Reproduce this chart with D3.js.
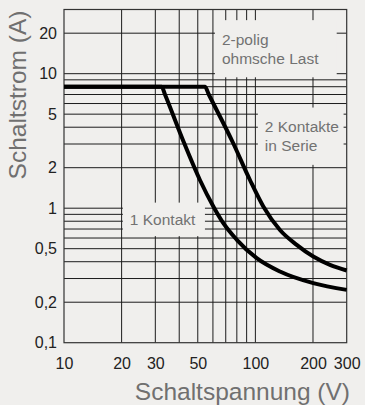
<!DOCTYPE html>
<html>
<head>
<meta charset="utf-8">
<script src="https://cdn.jsdelivr.net/npm/d3@7"></script>
<style>
  html, body { margin: 0; padding: 0; background: #f0efed; }
  svg { display: block; }
</style>
</head>
<body>
<div id="chart"></div>
<script>
// switching voltage (V) / switching current (A)
var kontakt1V = [10, 32.4, 33.7, 41.8, 51.3, 60.3, 68, 80, 101.6, 134.4, 200.7, 300];
var kontakt1A = [8, 8, 7, 3.21, 1.62, 1.03, 0.774, 0.582, 0.425, 0.338, 0.277, 0.247];

var kontakt2V = [10, 54.5, 57.1, 76.6, 93.7, 110, 134.4, 164.4, 200.7, 245.3, 300];
var kontakt2A = [8, 8, 7, 3.04, 1.62, 1.03, 0.689, 0.534, 0.437, 0.379, 0.344];

var xTicks = [10, 20, 30, 50, 100, 200, 300];
var yTicks = [0.1, 0.2, 0.5, 1, 2, 5, 10, 20];
var xGrid = [20, 30, 40, 50, 60, 70, 80, 90, 100, 200];
var yGrid = [20, 10, 9, 8, 7, 6, 5, 4, 3, 2, 1, 0.9, 0.8, 0.7, 0.6, 0.5, 0.4, 0.3, 0.2];

// label boxes in data units (they hide the grid behind them)
var notes = [
    { v0: 61.5, v1: 266, a0: 25, a1: 9.4, lines: ["2-polig", "ohmsche Last"] },
    { v0: 103, v1: 289, a0: 5.6, a1: 2.1, lines: ["2 Kontakte", "in Serie"] },
    { v0: 20.3, v1: 54.5, a0: 1.1, a1: 0.62, lines: ["1 Kontakt"] }
];

var W = 365, H = 405;
var pLeft = 64, pRight = 346.7, pTop = 9.5, pBottom = 342.7;
var font = "'Liberation Sans', Arial, sans-serif";

var svg = d3.select("#chart").append("svg").attr("width", W).attr("height", H);

var x = d3.scaleLog().domain([10, 300]).range([pLeft, pRight]);
var y = d3.scaleLog().domain([0.1, 30]).range([pBottom, pTop]);

// grid
var grid = svg.append("g").attr("stroke", "#1c1c1c").attr("stroke-width", 1);
grid.selectAll("line.v").data(xGrid).enter().append("line")
    .attr("x1", d => x(d)).attr("x2", d => x(d))
    .attr("y1", pTop).attr("y2", pBottom);
grid.selectAll("line.h").data(yGrid).enter().append("line")
    .attr("x1", pLeft).attr("x2", pRight)
    .attr("y1", d => y(d)).attr("y2", d => y(d));

// boxes over the grid
svg.append("g").selectAll("rect").data(notes).enter().append("rect")
    .attr("x", d => x(d.v0)).attr("y", d => y(d.a0))
    .attr("width", d => x(d.v1) - x(d.v0))
    .attr("height", d => y(d.a1) - y(d.a0))
    .attr("fill", "#f0efed");

// frame
svg.append("rect")
    .attr("x", pLeft).attr("y", pTop)
    .attr("width", pRight - pLeft).attr("height", pBottom - pTop)
    .attr("fill", "none").attr("stroke", "#333").attr("stroke-width", 1.2);

// curves
var line = d3.line()
    .x(d => x(d[0])).y(d => y(d[1]))
    .curve(d3.curveMonotoneX);

var series = [d3.zip(kontakt1V, kontakt1A), d3.zip(kontakt2V, kontakt2A)];
svg.append("g").selectAll("path").data(series).enter().append("path")
    .attr("d", line)
    .attr("fill", "none")
    .attr("stroke", "#000")
    .attr("stroke-width", 4);

// box texts
var lh = 19;
notes.forEach(function (n) {
    var cy = (y(n.a0) + y(n.a1)) / 2;
    var first = cy - (n.lines.length - 1) * lh / 2 + 5.7;
    svg.append("text")
        .attr("font-family", font).attr("font-size", 15.5)
        .attr("fill", "#727272")
        .selectAll("tspan").data(n.lines).enter().append("tspan")
        .attr("x", x(n.v0) + 7)
        .attr("y", (d, i) => first + i * lh)
        .text(d => d);
});

// axes (labels only)
var fmt = d => String(d).replace(".", ",");

var xAxis = svg.append("g")
    .attr("transform", "translate(0," + pBottom + ")")
    .call(d3.axisBottom(x).tickValues(xTicks).tickFormat(fmt).tickSize(0).tickPadding(15));
var yAxis = svg.append("g")
    .attr("transform", "translate(" + pLeft + ",0)")
    .call(d3.axisLeft(y).tickValues(yTicks).tickFormat(fmt).tickSize(0).tickPadding(7));

[xAxis, yAxis].forEach(function (a) {
    a.select(".domain").remove();
    a.selectAll("text")
        .attr("font-family", font)
        .attr("font-size", 16)
        .attr("fill", "#222");
});

// axis titles
svg.append("text")
    .attr("x", 350).attr("y", 400)
    .attr("text-anchor", "end")
    .attr("font-family", font).attr("font-size", 24.5)
    .attr("fill", "#707070")
    .text("Schaltspannung (V)");

svg.append("text")
    .attr("transform", "translate(25.5,95) rotate(-90)")
    .attr("text-anchor", "middle")
    .attr("font-family", font).attr("font-size", 24.5)
    .attr("fill", "#707070")
    .text("Schaltstrom (A)");
</script>
</body>
</html>
